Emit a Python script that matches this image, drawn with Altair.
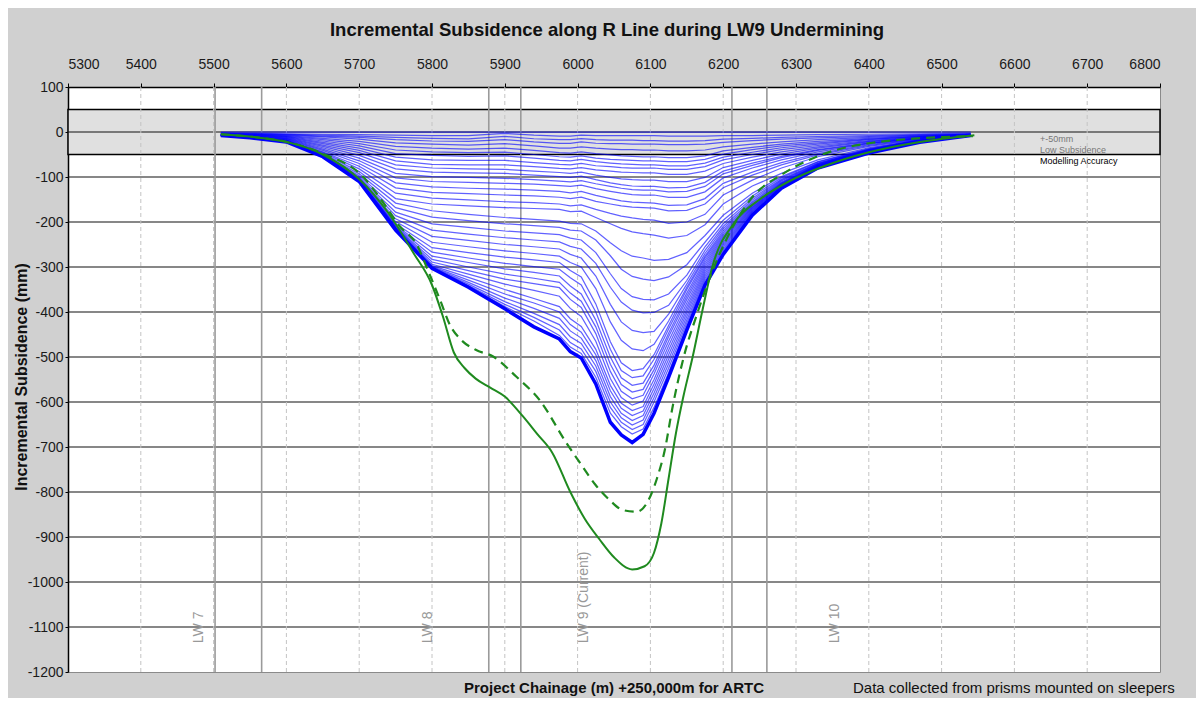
import altair as alt
import pandas as pd

# ---------------- data ----------------
chainage = [5510, 5550, 5600, 5650, 5700, 5750, 5800, 5850, 5900, 5940, 5975, 5990, 6005, 6025,
            6045, 6060, 6075, 6090, 6105, 6125, 6150, 6175, 6200, 6240, 6280, 6330, 6400, 6470, 6540]

baseline_survey = [0, 0, 0, 0, 0, 0, 0, 0, 0, 0, 0, 0, 0, 0, 0, 0, 0, 0, 0, 0, 0, 0, 0, 0, 0, 0, 0, 0, 0]

survey_values = [
    [-2, -3, -4, -5, -6, -7, -8, -8, -3, -7, -9, -9, -7, -8, -8, -8, -8, -8, -8, -9, -9, -9, -8, -8, -7, -6, -5, -4, -3],
    [-3, -4, -5, -7, -9, -12, -14, -15, -10, -15, -17, -17, -15, -17, -18, -18, -18, -19, -19, -20, -20, -19, -16, -14, -12, -10, -8, -6, -4],
    [-3, -4, -6, -9, -12, -17, -20, -21, -17, -22, -25, -25, -22, -25, -26, -26, -27, -27, -27, -28, -28, -27, -23, -19, -16, -13, -10, -7, -5],
    [-3, -5, -7, -11, -16, -24, -27, -29, -26, -31, -36, -36, -33, -36, -38, -39, -39, -40, -40, -42, -42, -40, -33, -27, -22, -17, -12, -8, -5],
    [-4, -5, -8, -14, -21, -32, -36, -38, -36, -41, -46, -47, -44, -48, -51, -53, -54, -55, -55, -57, -57, -53, -42, -34, -27, -21, -14, -9, -5],
    [-4, -6, -9, -17, -26, -40, -44, -46, -45, -50, -55, -56, -53, -58, -61, -62, -63, -64, -64, -66, -66, -61, -49, -39, -31, -24, -16, -10, -5],
    [-4, -6, -10, -20, -31, -48, -52, -54, -53, -58, -63, -64, -61, -66, -69, -71, -72, -73, -73, -75, -75, -69, -56, -45, -35, -27, -17, -10, -5],
    [-5, -7, -11, -23, -36, -56, -62, -63, -63, -68, -72, -73, -70, -75, -77, -79, -80, -80, -80, -83, -83, -77, -62, -50, -39, -30, -19, -11, -6],
    [-5, -7, -12, -26, -41, -64, -72, -73, -73, -77, -81, -82, -79, -84, -87, -89, -90, -91, -91, -94, -94, -87, -70, -56, -44, -33, -21, -12, -6],
    [-5, -8, -13, -29, -46, -73, -80, -82, -83, -87, -90, -92, -89, -96, -101, -104, -106, -107, -107, -110, -110, -101, -79, -63, -49, -36, -22, -13, -6],
    [-5, -8, -14, -32, -52, -82, -89, -91, -92, -96, -99, -101, -98, -106, -113, -117, -120, -121, -121, -124, -123, -112, -87, -69, -54, -39, -24, -13, -6],
    [-6, -9, -15, -35, -58, -92, -99, -101, -103, -106, -109, -111, -108, -115, -121, -125, -128, -129, -129, -133, -132, -121, -93, -74, -57, -41, -25, -14, -6],
    [-6, -9, -16, -38, -64, -102, -110, -112, -114, -116, -119, -121, -118, -126, -132, -136, -139, -140, -140, -145, -145, -133, -102, -80, -62, -44, -26, -14, -6],
    [-6, -10, -17, -41, -70, -113, -122, -125, -127, -129, -132, -135, -132, -141, -148, -153, -156, -157, -158, -163, -162, -148, -114, -89, -68, -48, -28, -15, -7],
    [-6, -10, -18, -44, -76, -124, -134, -137, -140, -142, -145, -148, -145, -154, -160, -164, -167, -168, -169, -175, -174, -160, -124, -96, -73, -51, -30, -16, -7],
    [-7, -11, -19, -46, -82, -136, -147, -151, -155, -157, -160, -164, -162, -172, -181, -187, -191, -194, -196, -203, -200, -183, -140, -107, -80, -55, -32, -17, -7],
    [-7, -11, -19, -48, -88, -148, -160, -164, -168, -170, -172, -177, -176, -190, -204, -214, -222, -226, -229, -236, -230, -206, -160, -120, -92, -62, -35, -18, -7],
    [-7, -11, -19, -50, -93, -158, -175, -183, -190, -194, -198, -203, -204, -220, -246, -264, -276, -280, -285, -283, -268, -230, -185, -136, -99, -66, -37, -18, -7],
    [-7, -11, -19, -51, -97, -168, -189, -197, -204, -208, -212, -218, -220, -240, -275, -305, -321, -327, -330, -322, -295, -245, -196, -142, -102, -67, -38, -18, -7],
    [-7, -11, -20, -52, -100, -178, -204, -212, -220, -224, -228, -236, -240, -268, -315, -348, -366, -372, -373, -360, -318, -255, -204, -147, -105, -69, -39, -19, -7],
    [-7, -11, -20, -53, -102, -186, -218, -227, -235, -240, -244, -254, -260, -292, -345, -378, -396, -402, -401, -385, -330, -263, -210, -151, -107, -70, -39, -19, -7],
    [-7, -12, -20, -53, -104, -193, -232, -241, -250, -255, -260, -272, -280, -320, -383, -422, -441, -446, -443, -405, -338, -270, -215, -155, -109, -71, -40, -19, -7],
    [-7, -12, -20, -53, -105, -199, -245, -255, -264, -270, -276, -290, -300, -348, -422, -463, -482, -486, -472, -420, -345, -276, -220, -158, -111, -72, -40, -19, -7],
    [-7, -12, -21, -54, -106, -204, -257, -268, -278, -284, -290, -308, -322, -382, -466, -513, -530, -526, -495, -430, -350, -280, -224, -161, -113, -73, -41, -20, -7],
    [-7, -12, -21, -54, -107, -207, -267, -280, -292, -299, -305, -324, -340, -400, -483, -530, -546, -542, -505, -438, -358, -285, -228, -163, -114, -73, -41, -20, -7],
    [-7, -12, -21, -54, -107, -209, -276, -290, -304, -312, -320, -342, -360, -418, -500, -546, -563, -558, -518, -447, -365, -290, -232, -165, -115, -74, -42, -20, -7],
    [-8, -12, -21, -54, -108, -211, -283, -300, -316, -325, -334, -358, -376, -433, -516, -561, -578, -572, -528, -455, -372, -295, -236, -167, -116, -75, -42, -20, -7],
    [-8, -12, -21, -54, -108, -212, -289, -308, -327, -337, -346, -372, -390, -448, -532, -576, -593, -585, -538, -465, -380, -300, -240, -169, -117, -75, -43, -21, -7],
    [-8, -12, -21, -54, -108, -213, -294, -316, -338, -352, -365, -392, -410, -465, -548, -590, -607, -598, -550, -475, -388, -305, -244, -171, -118, -76, -43, -21, -7],
    [-8, -13, -22, -55, -109, -214, -297, -323, -350, -370, -388, -415, -432, -483, -563, -603, -619, -610, -560, -485, -395, -310, -248, -173, -119, -77, -44, -21, -7],
    [-8, -13, -22, -55, -109, -215, -299, -329, -360, -380, -400, -428, -445, -495, -575, -614, -630, -620, -570, -495, -402, -315, -252, -175, -120, -77, -44, -22, -7],
    [-8, -13, -22, -55, -109, -216, -300, -334, -369, -392, -414, -442, -458, -508, -588, -625, -641, -630, -580, -505, -410, -320, -256, -177, -121, -78, -45, -22, -8],
    [-8, -13, -22, -55, -109, -216, -301, -338, -377, -403, -428, -455, -470, -520, -600, -635, -651, -640, -590, -515, -418, -325, -260, -179, -122, -79, -45, -22, -8],
    [-8, -13, -22, -55, -110, -217, -302, -341, -383, -412, -440, -468, -482, -532, -612, -645, -661, -650, -600, -525, -425, -330, -264, -181, -123, -79, -46, -22, -8],
    [-8, -13, -22, -55, -110, -217, -302, -343, -388, -420, -452, -478, -492, -545, -625, -655, -671, -660, -612, -535, -432, -335, -268, -183, -124, -80, -46, -23, -8],
]

latest_survey = [-8, -13, -22, -55, -110, -218, -303, -345, -393, -433, -460, -488, -502, -560, -645, -673,
                 -690, -672, -625, -545, -440, -340, -272, -185, -125, -80, -47, -23, -8]

pred_solid_chainage = [5510, 5560, 5600, 5650, 5700, 5740, 5775, 5800, 5815, 5830, 5845, 5860, 5880, 5900,
                       5925, 5945, 5965, 5990, 6010, 6030, 6050, 6075, 6092, 6105, 6115, 6125, 6135, 6145,
                       6158, 6171, 6185, 6216, 6250, 6290, 6340, 6400, 6470, 6545]
pred_solid_values = [-5, -12, -22, -50, -105, -180, -270, -340, -410, -490, -525, -548, -568, -588,
                     -632, -672, -712, -800, -860, -905, -945, -972, -965, -935, -870, -770, -670, -590,
                     -500, -400, -300, -200, -150, -110, -75, -45, -22, -7]

pred_dash_chainage = [5510, 5560, 5600, 5650, 5705, 5730, 5756, 5779, 5795, 5811, 5825, 5840, 5860, 5884,
                      5916, 5948, 5985, 6007, 6025, 6044, 6062, 6081, 6095, 6109, 6120, 6130, 6145, 6165,
                      6185, 6204, 6237, 6283, 6328, 6420, 6543]
pred_dash_values = [-5, -12, -22, -48, -99, -150, -210, -250, -310, -373, -430, -462, -484, -499,
                    -544, -596, -692, -744, -785, -818, -840, -844, -825, -770, -705, -615, -505, -400,
                    -310, -240, -151, -92, -55, -21, -9]

x_ticks = [5300, 5400, 5500, 5600, 5700, 5800, 5900, 6000, 6100, 6200, 6300, 6400, 6500, 6600, 6700, 6800]
y_ticks = [100, 0, -100, -200, -300, -400, -500, -600, -700, -800, -900, -1000, -1100, -1200]
h_grid = [0, -100, -200, -300, -400, -500, -600, -700, -800, -900, -1000, -1100]
v_grid = [5400, 5500, 5600, 5700, 5800, 5900, 6000, 6100, 6200, 6300, 6400, 6500, 6600, 6700]
panel_edges = [5502, 5566, 5878, 5922, 6212, 6260]
lw_labels = ["LW 7", "LW 8", "LW 9 (Current)", "LW 10"]
lw_label_x = [5480, 5795, 6009, 6354]
band_limits = [50, -50]
accuracy_notes = ["+-50mm", "Low Subsidence", "Modelling Accuracy"]
accuracy_note_y = [-15, -40, -64]

# ---------------- tables ----------------
assert all(len(r) == len(chainage) for r in survey_values)
assert len(pred_solid_chainage) == len(pred_solid_values)
assert len(pred_dash_chainage) == len(pred_dash_values)
rows = []
for c, v in zip(chainage, baseline_survey):
    rows.append({"survey": "s00", "chainage": c, "value": v})
for i, vals in enumerate(survey_values):
    for c, v in zip(chainage, vals):
        rows.append({"survey": f"s{i+1:02d}", "chainage": c, "value": v})
df_surv = pd.DataFrame(rows)
df_latest = pd.DataFrame({"chainage": chainage, "value": latest_survey})
df_ps = pd.DataFrame({"chainage": pred_solid_chainage, "value": pred_solid_values})
df_pd = pd.DataFrame({"chainage": pred_dash_chainage, "value": pred_dash_values})

FONT = "Liberation Sans"
xs = alt.Scale(domain=[5300, 6800], nice=False, zero=False)
ys = alt.Scale(domain=[-1200, 100], nice=False, zero=False)
x_axis = alt.Axis(orient="top", values=x_ticks, format="d", labelFontSize=14, labelFont=FONT,
                  labelColor="#1a1a1a", tickSize=4, tickColor="#000", labelPadding=12,
                  domain=True, domainColor="#000", domainWidth=1.5, grid=False, title=None)
y_axis = alt.Axis(values=y_ticks, labelExpr="'' + datum.value", labelFontSize=14, labelFont=FONT,
                  labelColor="#1a1a1a", tickSize=3, tickColor="#000", labelPadding=2,
                  domain=True, domainColor="#000", domainWidth=1.5, grid=False, title=None)


def X(field):
    return alt.X(f"{field}:Q", scale=xs, axis=x_axis)


def Y(field):
    return alt.Y(f"{field}:Q", scale=ys, axis=y_axis)


band = alt.Chart(pd.DataFrame({"x": [5300], "x2": [6800], "y": [band_limits[0]], "y2": [band_limits[1]]})).mark_rect(
    fill="#e0e0e0", stroke="#000", strokeWidth=1.5
).encode(x=X("x"), x2="x2:Q", y=Y("y"), y2="y2:Q")

hgrid = alt.Chart(pd.DataFrame({"v": h_grid})).mark_rule(color="#111", strokeWidth=1.2).encode(y=Y("v"))
vgrid = alt.Chart(pd.DataFrame({"c": v_grid})).mark_rule(color="#c4c4c4", strokeWidth=1, strokeDash=[4, 3]).encode(x=X("c"))
edges = alt.Chart(pd.DataFrame({"c": panel_edges})).mark_rule(color="#9a9a9a", strokeWidth=1.6).encode(x=X("c"))

blue = alt.Chart(df_surv).mark_line(color="#0000ff", strokeWidth=1.25, opacity=0.62).encode(
    x=X("chainage"), y=Y("value"), detail="survey:N")
latest = alt.Chart(df_latest).mark_line(color="#0000ff", strokeWidth=3.5).encode(x=X("chainage"), y=Y("value"))
pred_s = alt.Chart(df_ps).mark_line(color="#1f8a1f", strokeWidth=2, interpolate="monotone").encode(
    x=X("chainage"), y=Y("value"))
pred_d = alt.Chart(df_pd).mark_line(color="#1f8a1f", strokeWidth=2.2, strokeDash=[9, 6], interpolate="monotone").encode(
    x=X("chainage"), y=Y("value"))

lw_text = alt.Chart(pd.DataFrame({"t": lw_labels, "c": lw_label_x, "v": [-1136, -1136, -1136, -1136]})).mark_text(
    angle=270, align="left", baseline="middle", color="#999999", fontSize=14, font=FONT
).encode(x=X("c"), y=Y("v"), text="t:N")

notes = alt.Chart(pd.DataFrame({"t": accuracy_notes, "v": accuracy_note_y, "c": [6635, 6635, 6635],
                                "col": ["#777777", "#777777", "#000000"]})).mark_text(
    align="left", baseline="middle", fontSize=9, font=FONT
).encode(x=X("c"), y=Y("v"), text="t:N", color=alt.Color("col:N", scale=None))

title = alt.Chart(pd.DataFrame({"t": ["Incremental Subsidence along R Line during LW9 Undermining"]})).mark_text(
    fontSize=18.5, fontWeight="bold", font=FONT, color="#111", align="center", baseline="middle"
).encode(text="t:N", x=alt.value(539), y=alt.value(-57))

ytitle = alt.Chart(pd.DataFrame({"t": ["Incremental Subsidence (mm)"]})).mark_text(
    fontSize=16, fontWeight="bold", font=FONT, color="#111", angle=270, align="center", baseline="middle"
).encode(text="t:N", x=alt.value(-46), y=alt.value(290))

xtitle = alt.Chart(pd.DataFrame({"t": ["Project Chainage (m) +250,000m for ARTC"]})).mark_text(
    fontSize=15, fontWeight="bold", font=FONT, color="#111", align="center", baseline="alphabetic"
).encode(text="t:N", x=alt.value(546), y=alt.value(606))

note = alt.Chart(pd.DataFrame({"t": ["Data collected from prisms mounted on sleepers"]})).mark_text(
    fontSize=15, font=FONT, color="#111", align="left", baseline="alphabetic"
).encode(text="t:N", x=alt.value(785), y=alt.value(606))

chart = alt.layer(
    band, hgrid, vgrid, edges, blue, latest, pred_s, pred_d, lw_text, notes, title, ytitle, xtitle, note
).properties(
    width=1092, height=585,
    padding={"left": 60, "top": 79, "right": 36, "bottom": 26},
    autosize=alt.AutoSizeParams(type="none"),
    background="#d0d0d0",
).configure_view(stroke="#8a8a8a", strokeWidth=1, fill="white")

chart.save("out.html", embed_options={"renderer": "svg", "actions": False})
